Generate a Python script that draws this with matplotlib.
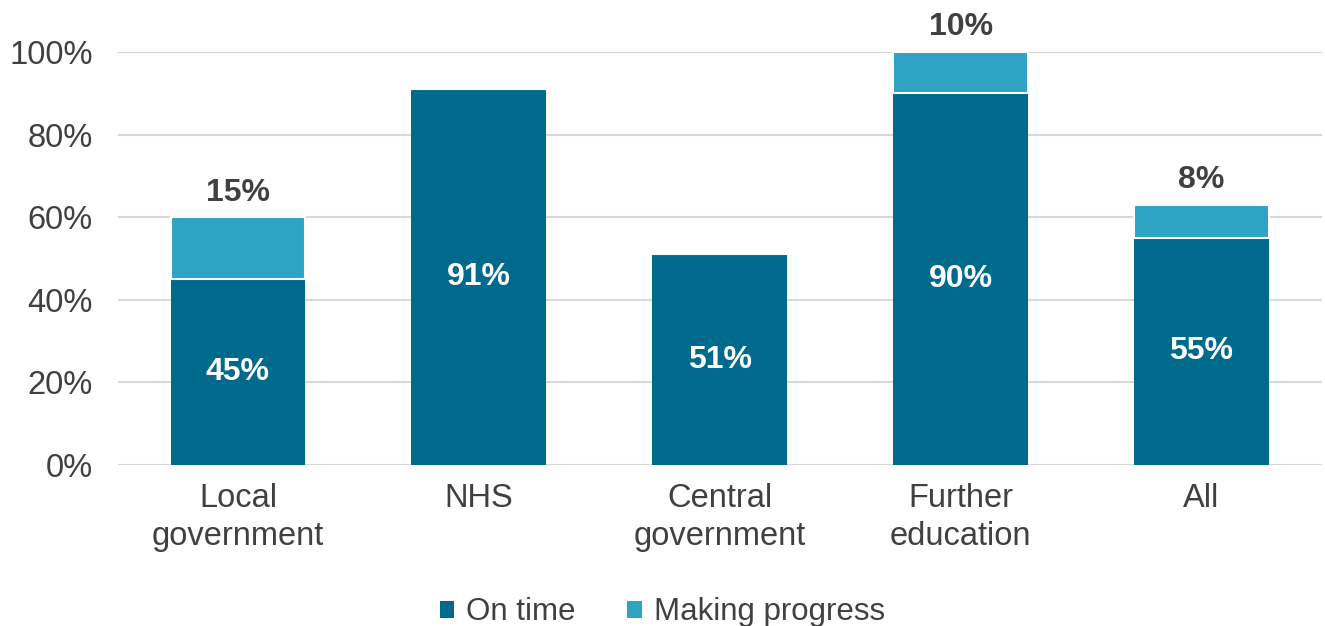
import matplotlib.pyplot as plt
import numpy as np

plt.rcParams['font.family'] = ['Liberation Sans', 'DejaVu Sans']

categories = ["Local\ngovernment", "NHS", "Central\ngovernment", "Further\neducation", "All"]
on_time = [45, 91, 51, 90, 55]
making_progress = [15, 0, 0, 10, 8]

dark = "#006A8C"
light = "#2EA3C4"
text_col = "#404040"

fig = plt.figure(figsize=(13.25, 6.26), dpi=100)
ax = fig.add_axes([0.0887, 0.257, 0.909, 0.66])

x = np.arange(len(categories))
w = 0.56
ax.bar(x, on_time, w, color=dark, label="On time", zorder=3)
ax.bar(x, making_progress, w, bottom=on_time, color=light, label="Making progress",
       edgecolor="white", linewidth=1.5, zorder=3)

# labels inside the dark segment and above the light one
for i in range(len(categories)):
    ax.text(x[i], on_time[i] / 2, f"{on_time[i]}%", ha="center", va="center",
            color="white", fontsize=23, fontweight="bold", zorder=4)
    if making_progress[i] > 0:
        top = on_time[i] + making_progress[i]
        ax.text(x[i], top + 2.3, f"{making_progress[i]}%", ha="center", va="bottom",
                color=text_col, fontsize=23, fontweight="bold", clip_on=False)

ax.set_xlim(-0.5, len(categories) - 0.5)
ax.set_ylim(0, 100)
ax.set_yticks(range(0, 101, 20))
ax.set_yticklabels([f"{v}%" for v in range(0, 101, 20)])
ax.set_xticks(x)
ax.set_xticklabels(categories, linespacing=1.28)
ax.tick_params(axis="both", length=0, labelsize=23.5, colors=text_col)
ax.tick_params(axis="y", pad=18)
ax.tick_params(axis="x", pad=13)
ax.grid(axis="y", color="#D9D9D9", linewidth=1.5, zorder=0)
for s in ax.spines.values():
    s.set_visible(False)

leg = fig.legend(loc="lower center", bbox_to_anchor=(0.5, -0.047), ncol=2, frameon=False,
                 fontsize=22.5, handlelength=0.45, handleheight=0.45, handletextpad=0.4,
                 columnspacing=1.65)
for t in leg.get_texts():
    t.set_color(text_col)
for h in leg.legend_handles:
    h.set_edgecolor("none")

fig.savefig("out.png", dpi=100)
